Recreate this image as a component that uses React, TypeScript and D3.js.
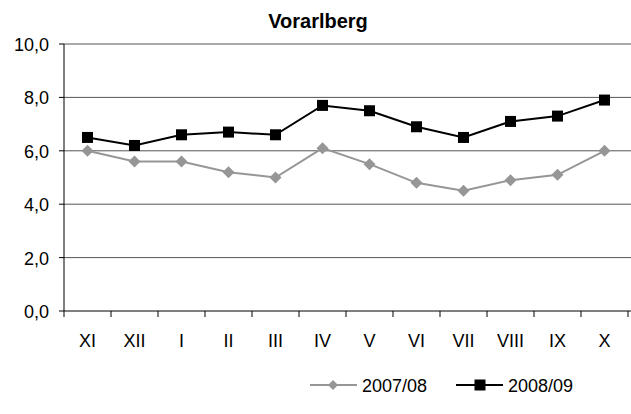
import React from 'react';
import * as d3 from 'd3';

const months = ['XI', 'XII', 'I', 'II', 'III', 'IV', 'V', 'VI', 'VII', 'VIII', 'IX', 'X'];
const series0708 = [6.0, 5.6, 5.6, 5.2, 5.0, 6.1, 5.5, 4.8, 4.5, 4.9, 5.1, 6.0];
const series0809 = [6.5, 6.2, 6.6, 6.7, 6.6, 7.7, 7.5, 6.9, 6.5, 7.1, 7.3, 7.9];
const yTicks = [0, 2, 4, 6, 8, 10];

const W = 631;
const H = 414;
const left = 64;
const right = 628;
const top = 44;
const bottom = 311;
const font = 'Liberation Sans, Arial, sans-serif';

export default function App() {
  const x = d3.scaleBand<string>().domain(months).range([left, right]);
  const y = d3.scaleLinear().domain([0, 10]).range([bottom, top]);
  const cx = (m: string) => (x(m) as number) + x.bandwidth() / 2;
  const line = d3.line<number>().x((_, i) => cx(months[i])).y(d => y(d));
  const fmt = (v: number) => d3.format('.1f')(v).replace('.', ',');
  const gray = '#969696';

  const diamond = (px: number, py: number, r = 6) =>
    `M${px},${py - r}L${px + r},${py}L${px},${py + r}L${px - r},${py}Z`;

  return (
    <svg width={W} height={H} style={{ position: 'absolute', left: 0, top: 0, background: '#fff' }}>
      <text x={318} y={28} textAnchor="middle" fontFamily={font} fontWeight="bold" fontSize={20}>
        Vorarlberg
      </text>
      {yTicks.map(t => (
        <g key={t}>
          {t > 0 && <line x1={left} x2={W} y1={y(t)} y2={y(t)} stroke="#555" strokeWidth={1} />}
          <line x1={left - 5} x2={left} y1={y(t)} y2={y(t)} stroke="#000" />
          <text x={49} y={y(t) + 7} textAnchor="end" fontFamily={font} fontSize={18}>
            {fmt(t)}
          </text>
        </g>
      ))}
      <line x1={left} x2={left} y1={top} y2={bottom} stroke="#000" />
      <line x1={left} x2={W} y1={bottom} y2={bottom} stroke="#000" />
      {months.map((m, i) => (
        <g key={m}>
          <line x1={x(m)} x2={x(m)} y1={bottom} y2={bottom + 6} stroke="#000" />
          {i === months.length - 1 && (
            <line x1={right} x2={right} y1={bottom} y2={bottom + 6} stroke="#000" />
          )}
          <text x={cx(m)} y={347} textAnchor="middle" fontFamily={font} fontSize={18}>
            {m}
          </text>
        </g>
      ))}
      <path d={line(series0708) || ''} fill="none" stroke={gray} strokeWidth={2} />
      {series0708.map((v, i) => (
        <path key={i} d={diamond(cx(months[i]), y(v))} fill={gray} />
      ))}
      <path d={line(series0809) || ''} fill="none" stroke="#000" strokeWidth={2} />
      {series0809.map((v, i) => (
        <rect key={i} x={cx(months[i]) - 5.5} y={y(v) - 5.5} width={11} height={11} fill="#000" />
      ))}
      <g>
        <line x1={310} x2={357} y1={385} y2={385} stroke={gray} strokeWidth={2} />
        <path d={diamond(333, 385, 5)} fill={gray} />
        <text x={362} y={392} fontFamily={font} fontSize={18}>2007/08</text>
        <line x1={456} x2={503} y1={385} y2={385} stroke="#000" strokeWidth={2} />
        <rect x={474.5} y={379.5} width={11} height={11} fill="#000" />
        <text x={508} y={392} fontFamily={font} fontSize={18}>2008/09</text>
      </g>
    </svg>
  );
}
